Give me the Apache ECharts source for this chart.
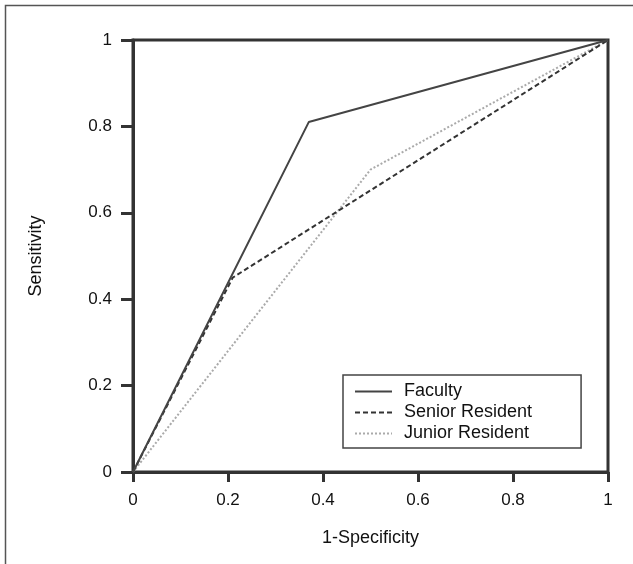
<!DOCTYPE html>
<html>
<head>
<meta charset="utf-8">
<script src="https://cdn.jsdelivr.net/npm/echarts@6/dist/echarts.min.js"></script>
<style>
html,body{margin:0;padding:0;background:#fff;}
#chart{width:633px;height:564px;}
</style>
</head>
<body>
<div id="chart"></div>
<script>
// Data
const seriesNames = ['Faculty', 'Senior Resident', 'Junior Resident'];
const facultyX = [0, 0.37, 1];
const facultyY = [0, 0.81, 1];
const seniorX = [0, 0.21, 1];
const seniorY = [0, 0.45, 1];
const juniorX = [0, 0.50, 1];
const juniorY = [0, 0.70, 1];
const tickValues = [0, 0.2, 0.4, 0.6, 0.8, 1];

function pairs(xs, ys) { return xs.map((x, i) => [x, ys[i]]); }
function fmt(v) { return tickValues.indexOf(v) >= 0 ? String(v) : ''; }

const chart = echarts.init(document.getElementById('chart'), null, {renderer: 'canvas'});
const axisColor = '#333';
const font = 'Liberation Sans, Arial, sans-serif';

chart.setOption({
  animation: false,
  backgroundColor: '#fff',
  graphic: [{
    type: 'rect',
    shape: {x: 5.5, y: 5.5, width: 800, height: 800},
    style: {fill: 'none', stroke: '#555', lineWidth: 1.5},
    silent: true, z: 0
  }],
  grid: {
    left: 133, top: 40, width: 475, height: 432,
    show: true, borderColor: axisColor, borderWidth: 3, backgroundColor: 'transparent'
  },
  xAxis: {
    type: 'value', min: 0, max: 1, interval: 0.2,
    name: '1-Specificity', nameLocation: 'middle', nameGap: 57,
    nameTextStyle: {fontFamily: font, fontSize: 18, color: '#111'},
    axisLine: {show: true, lineStyle: {color: axisColor, width: 3}},
    axisTick: {show: true, length: 10, lineStyle: {color: axisColor, width: 3}},
    axisLabel: {fontFamily: font, fontSize: 17, color: '#111', margin: 20, formatter: fmt},
    splitLine: {show: false}
  },
  yAxis: {
    type: 'value', min: 0, max: 1, interval: 0.2,
    name: 'Sensitivity', nameLocation: 'middle', nameGap: 88,
    nameTextStyle: {fontFamily: font, fontSize: 18, color: '#111'},
    axisLine: {show: true, lineStyle: {color: axisColor, width: 3}},
    axisTick: {show: true, length: 12, lineStyle: {color: axisColor, width: 3}},
    axisLabel: {fontFamily: font, fontSize: 17, color: '#111', margin: 21, formatter: fmt},
    splitLine: {show: false}
  },
  legend: {
    orient: 'vertical',
    left: 343, top: 375,
    padding: [7, 49, 5, 11],
    itemGap: 2,
    itemWidth: 37, itemHeight: 14,
    borderColor: '#444', borderWidth: 1.5,
    backgroundColor: '#fff',
    itemStyle: {opacity: 0},
    textStyle: {fontFamily: font, fontSize: 18, color: '#111', lineHeight: 19, padding: [0, 0, 0, 7]},
    data: seriesNames
  },
  series: [
    {
      name: seriesNames[0], type: 'line', symbol: 'none',
      data: pairs(facultyX, facultyY),
      lineStyle: {color: '#444', width: 2, type: 'solid'},
      itemStyle: {color: '#444'}, z: 4
    },
    {
      name: seriesNames[1], type: 'line', symbol: 'none',
      data: pairs(seniorX, seniorY),
      lineStyle: {color: '#333', width: 2, type: [5, 3]},
      itemStyle: {color: '#333'}, z: 3
    },
    {
      name: seriesNames[2], type: 'line', symbol: 'none',
      data: pairs(juniorX, juniorY),
      lineStyle: {color: '#aaa', width: 2, type: [2, 2]},
      itemStyle: {color: '#aaa'}, z: 2
    }
  ]
});
</script>
</body>
</html>
